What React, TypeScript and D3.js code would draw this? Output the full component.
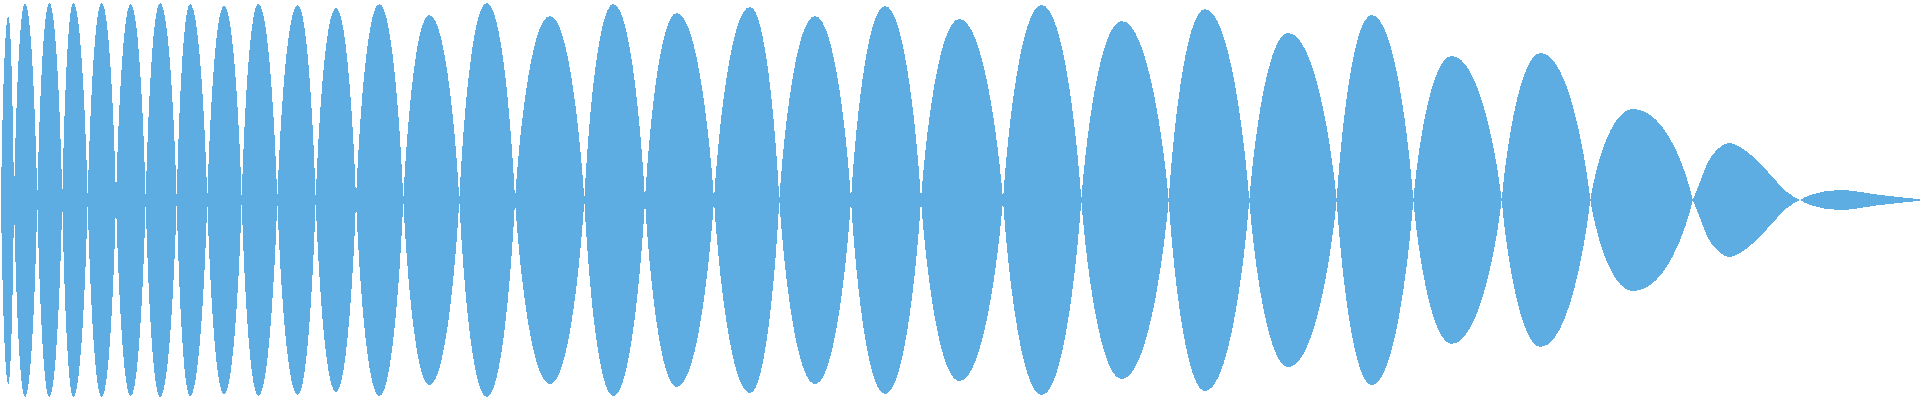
import React from "react";
import * as d3 from "d3";

// Zero crossings of the waveform envelope (x position, sample units)
const zeroX = [1, 14, 37.3, 62.3, 87.7, 116, 145.7, 176.7, 207.3, 241.7, 277.3, 315.7, 356, 403.3, 459.3, 515, 584.3, 645, 714, 779.3, 851, 921, 1003, 1081.3, 1168.7, 1249.3, 1336.7, 1413.3, 1501.7, 1590.3, 1692.7, 1800, 1920];
// Peak position of each lobe
const peakX = [8.3, 25, 49.3, 73.3, 101.7, 130.7, 160, 190, 224, 258.3, 297.7, 336, 379.3, 429.3, 486.7, 550, 613.3, 676.7, 750, 815, 885, 959.3, 1041.7, 1121.7, 1205, 1288.3, 1371.7, 1451.7, 1540.7, 1633.3, 1730, 1840];
// Peak amplitude of each lobe (normalised, 1 = full scale)
const peakAmp = [0.92, 0.985, 0.985, 0.985, 0.985, 0.98, 0.985, 0.98, 0.97, 0.98, 0.975, 0.96, 0.98, 0.925, 0.985, 0.92, 0.98, 0.935, 0.965, 0.92, 0.97, 0.905, 0.975, 0.895, 0.955, 0.835, 0.925, 0.72, 0.735, 0.455, 0.285, 0.05];
// Amplitude at the very last sample
const endAmp = 0.004;
// Extra readings on the decaying tail lobes: [lobe index, x, amplitude]
const tailPoints: [number, number, number][] = [
  [30, 1700, 0.09],
  [30, 1707, 0.18],
  [30, 1715, 0.24],
  [30, 1740, 0.265],
  [30, 1760, 0.183],
  [30, 1777, 0.09],
  [30, 1787, 0.04],
  [31, 1810, 0.025],
  [31, 1880, 0.025],
];

const W = 1920;
const H = 400;
const COLOR = "#5DADE2";

export default function App() {
  const x = d3.scaleLinear().domain([0, 1920]).range([0, W]);
  const y = d3.scaleLinear().domain([-1, 1]).range([H, 0]);
  const tailArea = d3
    .area<[number, number]>()
    .x((d) => x(d[0]))
    .y0((d) => y(-d[1]))
    .y1((d) => y(d[1]))
    .curve(d3.curveMonotoneX);

  // one lobe: cubic segments zero -> peak -> zero, mirrored about the centre line
  const lobePath = (z0: number, px: number, a: number, z1: number) => {
    const p = d3.path();
    const dl = px - z0;
    const dr = z1 - px;
    p.moveTo(x(z0), y(0));
    p.bezierCurveTo(x(z0 + 0.1 * dl), y(0.3 * a), x(z0 + 0.45 * dl), y(a), x(px), y(a));
    p.bezierCurveTo(x(px + 0.55 * dr), y(a), x(z1 - 0.1 * dr), y(0.3 * a), x(z1), y(0));
    p.bezierCurveTo(x(z1 - 0.1 * dr), y(-0.3 * a), x(px + 0.55 * dr), y(-a), x(px), y(-a));
    p.bezierCurveTo(x(z0 + 0.45 * dl), y(-a), x(z0 + 0.1 * dl), y(-0.3 * a), x(z0), y(0));
    p.closePath();
    return p.toString();
  };

  const lobes = peakX.map((px, i) => {
    const last = i === peakX.length - 1;
    const extras = tailPoints.filter((t) => t[0] === i).map((t) => [t[1], t[2]] as [number, number]);
    if (!extras.length) return lobePath(zeroX[i], px, peakAmp[i], zeroX[i + 1]);
    const pts: [number, number][] = [
      [zeroX[i], 0],
      [px, peakAmp[i]],
      ...extras,
      [zeroX[i + 1], last ? endAmp : 0],
    ];
    pts.sort((a, b) => a[0] - b[0]);
    return tailArea(pts) || "";
  });

  return (
    <svg
      width={W}
      height={H}
      style={{ position: "absolute", left: 0, top: 0, display: "block" }}
    >
      <rect x={0} y={0} width={W} height={H} fill="#ffffff" />
      {lobes.map((d, i) => (
        <path key={i} d={d} fill={COLOR} shapeRendering="crispEdges" />
      ))}
    </svg>
  );
}
